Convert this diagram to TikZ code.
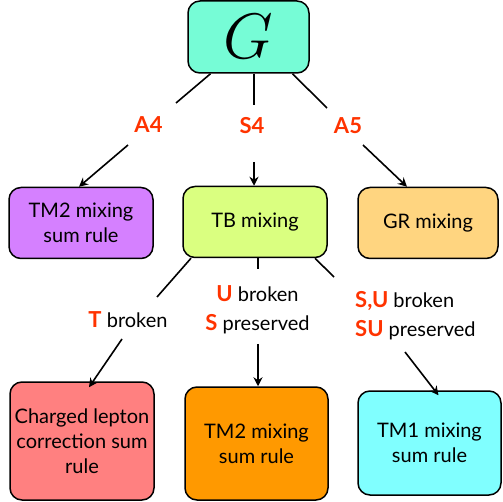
\documentclass[tikz,border=0pt]{standalone}
\usepackage{graphicx}
\usepackage{fontspec}
\setmainfont{Lato}
\usetikzlibrary{arrows.meta}
\definecolor{redl}{HTML}{FF3300}
\definecolor{gcol}{HTML}{76FCD6}
\definecolor{pcol}{HTML}{D580FF}
\definecolor{lcol}{HTML}{DAFF80}
\definecolor{ycol}{HTML}{FFD580}
\definecolor{rcol}{HTML}{FF8080}
\definecolor{ocol}{HTML}{FF9900}
\definecolor{ccol}{HTML}{80FFFF}
\begin{document}
\begin{tikzpicture}[x=1pt,y=-1pt,
  box/.style={draw, line width=1.5pt, rounded corners=12pt, align=center, inner sep=0pt,
    font=\fontsize{20}{25}\selectfont},
  lab/.style={font=\fontsize{22}{23}\selectfont\bfseries, text=redl, inner sep=0pt},
  txt/.style={font=\fontsize{20}{29}\selectfont, inner sep=0pt},
  rb/.style={},
  conn/.style={line width=1.6pt},
  arr/.style={conn, -{Stealth[length=9pt,width=9pt,inset=3pt]}}]
\useasboundingbox (0,0) rectangle (503,502);
% boxes
\node[box, fill=gcol, minimum width=121pt, minimum height=72pt] (G) at (248.5,37) {\scalebox{3.1}{$G$}};
\node[box, fill=pcol, minimum width=144pt, minimum height=71pt] (tma) at (81,223) {TM2 mixing\\sum rule};
\node[box, fill=lcol, minimum width=144pt, minimum height=71pt] (tb) at (255,222) {TB mixing};
\node[box, fill=ycol, minimum width=140pt, minimum height=71pt] (gr) at (428,223) {GR mixing};
\node[box, fill=rcol, minimum width=144pt, minimum height=118pt] (cl) at (82,441) {Charged lepton\\correction sum\\rule};
\node[box, fill=ocol, minimum width=143pt, minimum height=113pt] (tmb) at (256.5,443.5) {TM2 mixing\\sum rule};
\node[box, fill=ccol, minimum width=143pt, minimum height=104pt] (tmc) at (429.5,443) {TM1 mixing\\sum rule};
% labels
\node[lab] (a4) at (148.5,125) {A4};
\node[lab] (s4) at (252,126) {S4};
\node[lab] (a5) at (348,126) {A5};
\node[txt] (lt) at (128,320) {\textcolor{redl}{\fontsize{22}{29}\selectfont\bfseries T} broken};
\node[txt, align=center] (lu) at (257.5,310) {\textcolor{redl}{\fontsize{22}{29}\selectfont\bfseries U} broken\\\textcolor{redl}{\fontsize{22}{29}\selectfont\bfseries S} preserved};
\node[txt, align=left, anchor=west] (lsu) at (355,316) {\textcolor{redl}{\fontsize{22}{29}\selectfont\bfseries S,U} broken\\\textcolor{redl}{\fontsize{22}{29}\selectfont\bfseries SU} preserved};
% connector points
\coordinate (c1) at (176,103);
\coordinate (c2) at (128,145);
\coordinate (c3) at (254,105);
\coordinate (c4) at (254,162);
\coordinate (c5) at (327,108);
\coordinate (c6) at (363,145);
\coordinate (c7) at (157,297);
\coordinate (c8) at (122,339);
\coordinate (c9) at (258,269);
\coordinate (c10) at (258,344);
\coordinate (c11) at (334,277);
\coordinate (c12) at (405,352);
% connectors
\draw[conn] ([xshift=-38pt]G.south) -- (c1);
\draw[arr] (c2) -- ([xshift=-2pt]tma.north);
\draw[conn] (c3 |- G.south) -- (c3);
\draw[arr] (c4) -- (c4 |- tb.north);
\draw[conn] ([xshift=44pt]G.south) -- (c5);
\draw[arr] (c6) -- ([xshift=-21pt]gr.north);
\draw[conn] ([xshift=-64pt]tb.south) -- (c7);
\draw[arr] (c8) -- ([xshift=7pt,yshift=-6pt]cl.north);
\draw[conn] ([xshift=3pt]tb.south) -- (c9);
\draw[arr] (c10) -- ([xshift=1.5pt]tmb.north);
\draw[conn] ([xshift=60pt]tb.south) -- (c11);
\draw[arr] (c12) -- ([xshift=9pt,yshift=-5pt]tmc.north);
\end{tikzpicture}
\end{document}
